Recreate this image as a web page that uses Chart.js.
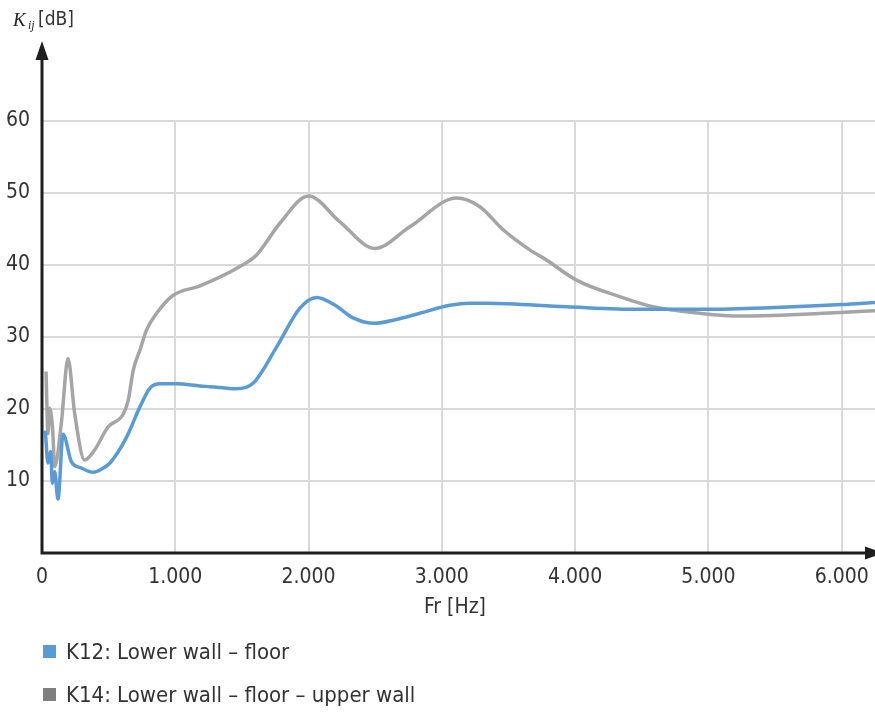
<!DOCTYPE html>
<html><head><meta charset="utf-8">
<script src="https://cdn.jsdelivr.net/npm/chart.js@4.4.0/dist/chart.umd.min.js"></script>
<style>html,body{margin:0;padding:0;background:#fff;overflow:hidden}#wrap{width:875px;height:713px;position:relative}</style>
</head><body><div id="wrap"><canvas id="c" width="875" height="713"></canvas></div>
<script>
const FONT = "'Liberation Sans Narrow', 'DejaVu Sans Condensed', 'Liberation Sans', sans-serif";
const TEXT_COLOR = '#333333';

const seriesLabels = ['K12: Lower wall – floor', 'K14: Lower wall – floor – upper wall'];
const xAxisTitle = 'Fr [Hz]';
const lineColors = ['#5b9bd5', '#a5a5a5'];
const legendColors = ['#5b9bd5', '#7f7f7f'];

const xTickValues = [0, 1000, 2000, 3000, 4000, 5000, 6000];
const xTickLabels = ['0', '1.000', '2.000', '3.000', '4.000', '5.000', '6.000'];
const yTickValues = [0, 10, 20, 30, 40, 50, 60];
const yTickLabels = ['', '10', '20', '30', '40', '50', '60'];
const X_MAX = 6250;
const Y_MAX = 60;

const k12Freq = [25, 45, 65, 78, 95, 120, 158, 220, 295, 385, 460, 510, 635, 735, 810, 885, 1010, 1185, 1260, 1460, 1585, 1760, 1935, 2060, 2200, 2330, 2497, 2650, 2835, 3060, 3210, 3335, 3935, 4485, 4985, 5500, 6000, 6250];
const k12Val  = [17.0, 12.5, 14.1, 9.7, 11.3, 7.5, 16.5, 12.7, 11.8, 11.2, 11.8, 12.5, 16.1, 20.3, 22.9, 23.5, 23.5, 23.2, 23.1, 22.8, 23.6, 28.6, 34.0, 35.5, 34.4, 32.7, 31.9, 32.4, 33.3, 34.4, 34.7, 34.7, 34.2, 33.85, 33.85, 34.1, 34.5, 34.8];

const k14Freq = [30, 45, 58, 80, 95, 145, 195, 245, 320, 395, 495, 610, 648, 685, 735, 785, 860, 985, 1185, 1485, 1610, 1785, 2000, 2235, 2497, 2760, 3110, 3285, 3460, 3660, 3785, 4010, 4335, 4585, 4935, 5235, 5985, 6250];
const k14Val  = [25.2, 16.6, 20.1, 17.1, 12.0, 18.0, 27.0, 19.4, 12.9, 14.3, 17.5, 19.3, 21.3, 25.4, 28.2, 31.0, 33.3, 35.8, 37.1, 39.8, 41.4, 45.8, 49.6, 46.0, 42.3, 45.3, 49.3, 48.1, 44.9, 42.1, 40.7, 37.9, 35.6, 34.2, 33.3, 32.9, 33.4, 33.65];

function toPoints(xs, ys) { return xs.map((x, i) => ({ x: x, y: ys[i] })); }

const axesPlugin = {
  id: 'axesArrows',
  afterDatasetsDraw(chart) {
    const ctx = chart.ctx;
    const xs = chart.scales.x, ys = chart.scales.y;
    const x0 = xs.getPixelForValue(0), y0 = ys.getPixelForValue(0);
    ctx.save();
    ctx.strokeStyle = '#1f1f1f';
    ctx.fillStyle = '#1f1f1f';
    ctx.lineWidth = 3;
    ctx.beginPath();
    ctx.moveTo(x0, y0 + 1.5);
    ctx.lineTo(x0, 56);
    ctx.moveTo(x0 - 1.5, y0);
    ctx.lineTo(868, y0);
    ctx.stroke();
    ctx.beginPath();
    ctx.moveTo(x0, 41);
    ctx.lineTo(x0 - 6.5, 60);
    ctx.lineTo(x0 + 6.5, 60);
    ctx.closePath();
    ctx.fill();
    ctx.beginPath();
    ctx.moveTo(884, y0);
    ctx.lineTo(865, y0 - 6.5);
    ctx.lineTo(865, y0 + 6.5);
    ctx.closePath();
    ctx.fill();
    ctx.restore();
  },
  afterDraw(chart) {
    const ctx = chart.ctx;
    ctx.save();
    ctx.fillStyle = '#222';
    ctx.textBaseline = 'alphabetic';
    ctx.textAlign = 'left';
    ctx.font = "italic 19px 'Liberation Serif', 'DejaVu Serif', serif";
    ctx.fillText('K', 13, 26);
    ctx.font = "italic 12px 'Liberation Serif', 'DejaVu Serif', serif";
    ctx.fillText('ij', 28, 29);
    ctx.fillStyle = TEXT_COLOR;
    ctx.font = "19px " + FONT;
    ctx.fillText('[dB]', 38, 25);
    ctx.font = "21px " + FONT;
    ctx.textAlign = 'center';
    ctx.textBaseline = 'middle';
    ctx.fillText(xAxisTitle, 455, 608);
    ctx.textAlign = 'left';
    ctx.font = "22px " + FONT;
    const rows = [652, 695];
    seriesLabels.forEach((lab, i) => {
      ctx.fillStyle = legendColors[i];
      ctx.fillRect(43, rows[i] - 7, 13, 13);
      ctx.fillStyle = TEXT_COLOR;
      ctx.fillText(lab, 66, rows[i] + 1);
    });
    ctx.restore();
  }
};

new Chart(document.getElementById('c'), {
  type: 'line',
  data: {
    datasets: [
      { label: seriesLabels[0], data: toPoints(k12Freq, k12Val), borderColor: lineColors[0], backgroundColor: lineColors[0], borderWidth: 3.5, pointRadius: 0, cubicInterpolationMode: 'monotone', fill: false },
      { label: seriesLabels[1], data: toPoints(k14Freq, k14Val), borderColor: lineColors[1], backgroundColor: lineColors[1], borderWidth: 3.5, pointRadius: 0, cubicInterpolationMode: 'monotone', fill: false }
    ]
  },
  options: {
    responsive: false,
    animation: false,
    layout: { padding: { top: 121, left: 0, right: 0, bottom: 0 } },
    plugins: { legend: { display: false }, tooltip: { enabled: false } },
    scales: {
      x: {
        type: 'linear', min: 0, max: X_MAX,
        border: { display: false },
        grid: { color: (c) => (c.tick && c.tick.value === 0) ? 'rgba(0,0,0,0)' : '#d9d9d9', lineWidth: 2, drawTicks: false },
        ticks: { autoSkip: false, maxRotation: 0, padding: 12, color: TEXT_COLOR, font: { family: FONT, size: 21 },
          callback: (v) => { const i = xTickValues.indexOf(v); return i >= 0 ? xTickLabels[i] : ''; } },
        title: { display: false },
        afterBuildTicks: (s) => { s.min = 0; s.max = X_MAX; s.ticks = xTickValues.map(v => ({ value: v })); },
        afterFit: (s) => { s.height = 160; s.paddingLeft = 0; s.paddingRight = 0; }
      },
      y: {
        min: 0, max: Y_MAX,
        border: { display: false },
        grid: { color: (c) => (c.tick && c.tick.value === 0) ? 'rgba(0,0,0,0)' : '#d9d9d9', lineWidth: 2, drawTicks: false },
        ticks: { padding: 12, color: TEXT_COLOR, font: { family: FONT, size: 21 },
          callback: (v) => { const i = yTickValues.indexOf(v); return i >= 0 ? yTickLabels[i] : ''; } },
        afterBuildTicks: (s) => { s.min = 0; s.max = Y_MAX; s.ticks = yTickValues.map(v => ({ value: v })); },
        afterFit: (s) => { s.width = 42; s.paddingTop = 0; s.paddingBottom = 0; }
      }
    }
  },
  plugins: [axesPlugin]
});
</script>
</body></html>
